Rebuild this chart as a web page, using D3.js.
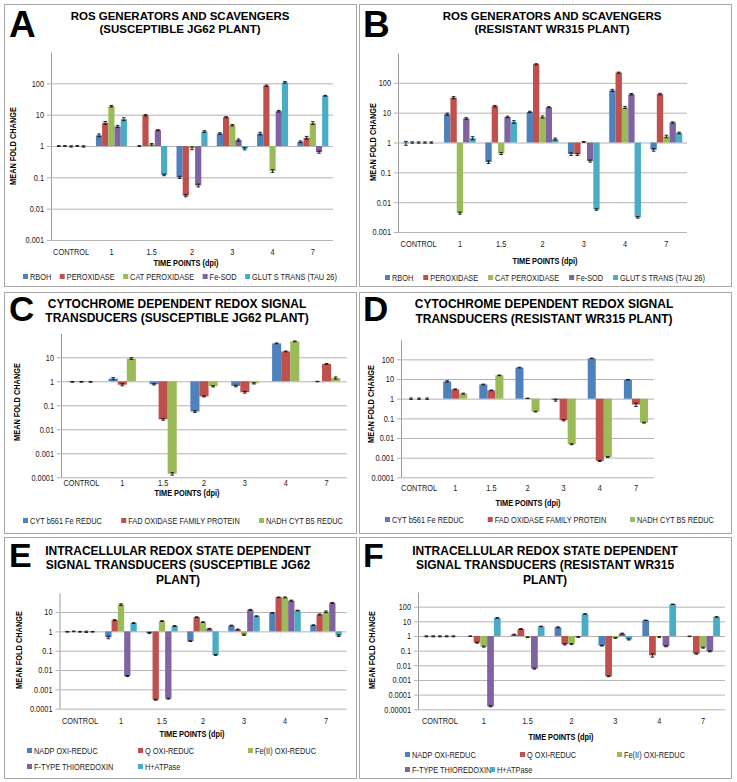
<!DOCTYPE html>
<html><head><meta charset="utf-8">
<script src="https://cdn.jsdelivr.net/npm/d3@7"></script>
<style>body{margin:0;background:#fff} svg{display:block}</style>
</head><body>
<svg id="c" width="737" height="782"></svg>
<script>
// ---------------- DATA ----------------
const categories = ["CONTROL", "1", "1.5", "2", "3", "4", "7"];

const rosSeries = ["RBOH", "PEROXIDASE", "CAT PEROXIDASE", "Fe-SOD", "GLUT S TRANS (TAU 26)"];
const cytSeries = ["CYT b561 Fe REDUC", "FAD OXIDASE FAMILY PROTEIN", "NADH CYT B5 REDUC"];
const redoxSeries = ["NADP OXI-REDUC", "Q OXI-REDUC", "Fe(II) OXI-REDUC", "F-TYPE THIOREDOXIN", "H+ATPase"];

// Panel A (susceptible JG62) ROS
const A_RBOH  = [1.0, 2.2, 1.0, 0.10, 2.5, 2.5, 1.37];
const A_PEROX = [1.0, 5.5, 9.6, 0.026, 8.3, 84, 1.84];
const A_CAT   = [0.97, 18.6, 1.13, 0.85, 4.6, 0.16, 5.4];
const A_SOD   = [1.0, 4.2, 3.2, 0.055, 1.55, 12.9, 0.64];
const A_GLUT  = [0.97, 7.2, 0.12, 2.9, 0.82, 107, 40];
// Panel B (resistant WR315) ROS
const B_RBOH  = [0.95, 8.9, 0.22, 10.6, 0.41, 56, 0.57];
const B_PEROX = [1.0, 32, 16.5, 420, 0.40, 220, 42];
const B_CAT   = [1.0, 0.0043, 0.43, 7.2, 1.05, 15, 1.6];
const B_SOD   = [1.0, 6.4, 7.2, 15.2, 0.24, 41.5, 4.7];
const B_GLUT  = [1.0, 1.4, 4.9, 1.3, 0.0057, 0.0031, 2.1];
// Panel C (susceptible) cytochrome
const C_CYT  = [0.95, 1.3, 0.75, 0.055, 0.64, 38, 0.98];
const C_FAD  = [0.95, 0.72, 0.026, 0.235, 0.35, 17.6, 5.3];
const C_NADH = [0.95, 8.9, 0.00014, 0.62, 0.82, 46, 1.38];
// Panel D (resistant) cytochrome
const D_CYT  = [1.0, 7.6, 5.3, 38, 0.85, 112, 9.2];
const D_FAD  = [1.0, 3.0, 2.65, 1.04, 0.08, 0.00068, 0.5];
const D_NADH = [1.0, 1.8, 15.4, 0.22, 0.0048, 0.00108, 0.06];
// Panel E (susceptible) intracellular redox
const E_NADP = [0.95, 0.49, 0.82, 0.31, 2.0, 9.1, 2.1];
const E_Q    = [1.0, 3.8, 0.00029, 5.4, 1.25, 58, 7.5];
const E_FE   = [0.95, 24.5, 3.4, 3.0, 0.67, 57, 10.3];
const E_FTYP = [0.95, 0.0049, 0.00033, 1.37, 13, 39, 29.7];
const E_HATP = [0.95, 2.7, 1.9, 0.06, 6.1, 12, 0.6];
// Panel F (resistant) intracellular redox
const F_NADP = [0.95, 0.97, 1.25, 3.9, 0.22, 11.7, 0.95];
const F_Q    = [0.95, 0.35, 3.0, 0.27, 0.0018, 0.048, 0.063];
const F_FE   = [0.95, 0.19, 0.82, 0.28, 0.73, 0.85, 0.16];
const F_FTYP = [0.95, 0.000016, 0.006, 0.85, 1.45, 0.2, 0.09];
const F_HATP = [0.95, 17, 4.5, 32, 0.59, 145, 20];

// relative errors (fraction of value)
const A_ERR = [[0.03,0.1,0.03,0.08,0.06,0.1,0.06],[0.03,0.1,0.05,0.08,0.04,0.05,0.1],[0.05,0.06,0.06,0.1,0.05,0.1,0.1],[0.03,0.08,0.04,0.1,0.08,0.06,0.08],[0.05,0.1,0.06,0.06,0.08,0.06,0.03]];
const B_ERR = [[0.15,0.08,0.1,0.05,0.1,0.08,0.1],[0.05,0.08,0.06,0.04,0.08,0.04,0.06],[0.05,0.08,0.08,0.08,0.03,0.08,0.1],[0.05,0.06,0.06,0.04,0.08,0.06,0.05],[0.05,0.12,0.1,0.08,0.06,0.06,0.06]];
const C_ERR = [[0.04,0.1,0.06,0.08,0.08,0.04,0.02],[0.04,0.1,0.08,0.05,0.08,0.04,0.04],[0.04,0.08,0.12,0.06,0.06,0.04,0.1]];
const D_ERR = [[0.08,0.08,0.04,0.04,0.12,0.03,0.03],[0.08,0.05,0.04,0.02,0.08,0.06,0.2],[0.08,0.06,0.04,0.04,0.05,0.04,0.05]];
const E_ERR = [[0.04,0.15,0.06,0.04,0.05,0.03,0.04],[0.04,0.06,0.05,0.05,0.05,0.03,0.06],[0.04,0.1,0.05,0.05,0.08,0.05,0.1],[0.08,0.06,0.05,0.05,0.05,0.06,0.05],[0.04,0.05,0.05,0.05,0.05,0.04,0.1]];
const F_ERR = [[0.08,0.04,0.06,0.08,0.06,0.04,0.04],[0.08,0.08,0.08,0.1,0.06,0.25,0.08],[0.08,0.08,0.05,0.08,0.05,0.05,0.08],[0.08,0.08,0.08,0.05,0.08,0.08,0.08],[0.08,0.05,0.04,0.04,0.1,0.03,0.04]];

const ticksABD = [0.001, 0.01, 0.1, 1, 10, 100];
const tickLabelsAB = ["0.001", "0.01", "0.1", "1", "10", "100"];
const ticksCDE = [0.0001, 0.001, 0.01, 0.1, 1, 10, 100];
const tickLabelsCDE = ["0.0001", "0.001", "0.01", "0.1", "1", "10", "100"];
const ticksF = [0.00001, 0.0001, 0.001, 0.01, 0.1, 1, 10, 100];
const tickLabelsF = ["0.00001", "0.0001", "0.001", "0.01", "0.1", "1", "10", "100"];

const colors = ["#4F81BD", "#C0504D", "#9BBB59", "#8064A2", "#4BACC6"];

// ---------------- PANELS ----------------
const panels = [
  { letter: "A", title: ["ROS GENERATORS AND SCAVENGERS", "(SUSCEPTIBLE JG62 PLANT)"],
    series: rosSeries, values: [A_RBOH, A_PEROX, A_CAT, A_SOD, A_GLUT], errs: A_ERR,
    domain: [0.001, 1000], ticks: ticksABD, tickLabels: tickLabelsAB,
    L: { box: [4, 4, 352, 282], letter: [9, 37, 37], titleX: 180, titleY: [20, 33], titleSize: 11.5,
         x0: 51, x1: 333, yTop: 52, yBot: 240, yTitle: [13, 146], catY: 255, xTitle: [186, 266],
         legend: { type: "row", y: 280, x0: 23, x1: 337 } } },
  { letter: "B", title: ["ROS GENERATORS AND SCAVENGERS", "(RESISTANT WR315 PLANT)"],
    series: rosSeries, values: [B_RBOH, B_PEROX, B_CAT, B_SOD, B_GLUT], errs: B_ERR,
    domain: [0.001, 1000], ticks: ticksABD, tickLabels: tickLabelsAB,
    L: { box: [359, 4, 372, 282], letter: [363, 37, 37], titleX: 552, titleY: [20, 33], titleSize: 11.5,
         x0: 398, x1: 687, yTop: 53, yBot: 232, yTitle: [373, 142], catY: 247, xTitle: [545, 264],
         legend: { type: "row", y: 281, x0: 385, x1: 705 } } },
  { letter: "C", title: ["CYTOCHROME DEPENDENT REDOX SIGNAL", "TRANSDUCERS (SUSCEPTIBLE JG62 PLANT)"],
    series: cytSeries, values: [C_CYT, C_FAD, C_NADH], errs: C_ERR,
    domain: [0.0001, 100], ticks: ticksCDE.slice(0, 6), tickLabels: tickLabelsCDE.slice(0, 6),
    L: { box: [4, 292, 352, 241], letter: [9, 321, 35], titleX: 177, titleY: [308, 322], titleSize: 12,
         x0: 61, x1: 347, yTop: 333.3, yBot: 477.3, yTitle: [17, 402], catY: 486, xTitle: [187, 496],
         legend: { type: "row", y: 524, x0: 23, x1: 343 } } },
  { letter: "D", title: ["CYTOCHROME DEPENDENT REDOX SIGNAL", "TRANSDUCERS (RESISTANT WR315 PLANT)"],
    series: cytSeries, values: [D_CYT, D_FAD, D_NADH], errs: D_ERR,
    domain: [0.0001, 1000], ticks: ticksCDE, tickLabels: tickLabelsCDE,
    L: { box: [359, 292, 372, 241], letter: [363, 321, 35], titleX: 544, titleY: [308, 323], titleSize: 12,
         x0: 401, x1: 654, yTop: 339.7, yBot: 477.3, yTitle: [371, 404], catY: 491, xTitle: [528, 506],
         legend: { type: "row", y: 523, x0: 385, x1: 714 } } },
  { letter: "E", title: ["INTRACELLULAR REDOX STATE DEPENDENT", "SIGNAL TRANSDUCERS (SUSCEPTIBLE JG62", "PLANT)"],
    series: redoxSeries, values: [E_NADP, E_Q, E_FE, E_FTYP, E_HATP], errs: E_ERR,
    domain: [0.0001, 100], ticks: ticksCDE.slice(0, 6), tickLabels: tickLabelsCDE.slice(0, 6),
    L: { box: [4, 537, 352, 241], letter: [9, 567, 34], titleX: 178, titleY: [554.5, 569, 583.5], titleSize: 12,
         x0: 59.5, x1: 346.5, yTop: 592.7, yBot: 708.7, yTitle: [19, 650], catY: 724, xTitle: [192, 737],
         legend: { type: "grid", rows: [754, 770], pos: [[27, 0], [138, 0], [248, 0], [27, 1], [138, 1]] } } },
  { letter: "F", title: ["INTRACELLULAR REDOX STATE DEPENDENT", "SIGNAL TRANSDUCERS (RESISTANT WR315", "PLANT)"],
    series: redoxSeries, values: [F_NADP, F_Q, F_FE, F_FTYP, F_HATP], errs: F_ERR,
    domain: [0.00001, 1000], ticks: ticksF, tickLabels: tickLabelsF,
    L: { box: [359, 537, 372, 241], letter: [363, 567, 34], titleX: 545, titleY: [554.5, 569, 583.5], titleSize: 12,
         x0: 418, x1: 725, yTop: 592, yBot: 709.3, yTitle: [372, 650], catY: 724, xTitle: [561, 740],
         legend: { type: "grid", rows: [758, 773], pos: [[405, 0], [520, 0], [617, 0], [405, 1], [490, 1]] } } }
];

// ---------------- DRAW ----------------
const FONT = "'Liberation Sans', Arial, Helvetica, sans-serif";
const SQ = 0.82;          // horizontal squeeze of the small chart text
const svg = d3.select("#c").style("font-family", FONT);
svg.append("rect").attr("width", 737).attr("height", 782).attr("fill", "#fff");

function squeeze(sel) {
  sel.each(function () {
    const t = d3.select(this);
    const x = +t.attr("x") || 0, y = +t.attr("y") || 0;
    t.attr("transform", `translate(${x},${y}) scale(${SQ},1) translate(${-x},${-y})`);
  });
}

panels.forEach(p => {
  const L = p.L;
  const g = svg.append("g");
  g.append("rect").attr("x", L.box[0] + 0.5).attr("y", L.box[1] + 0.5)
    .attr("width", L.box[2]).attr("height", L.box[3])
    .attr("fill", "#fff").attr("stroke", "#a6a6a6").attr("stroke-width", 1);

  g.append("text").attr("x", L.letter[0]).attr("y", L.letter[1])
    .attr("font-size", L.letter[2]).attr("font-weight", "bold").attr("fill", "#000").text(p.letter);

  p.title.forEach((t, i) => {
    g.append("text").attr("x", L.titleX).attr("y", L.titleY[i]).attr("text-anchor", "middle")
      .attr("font-size", L.titleSize).attr("font-weight", "bold").attr("fill", "#000").text(t);
  });

  const y = d3.scaleLog().domain(p.domain).range([L.yBot, L.yTop]);
  const x = d3.scaleBand().domain(categories).range([L.x0, L.x1]);
  const n = p.series.length;
  const inner = d3.scaleBand().domain(d3.range(n)).range([0, x.bandwidth()]).paddingInner(0).paddingOuter(0.75);

  // y axis with gridlines
  const ax = d3.axisLeft(y).tickValues(p.ticks).tickFormat((d, i) => p.tickLabels[i])
    .tickSize(-(L.x1 - L.x0)).tickSizeOuter(0).tickPadding(7);
  const ag = g.append("g").attr("transform", `translate(${L.x0},0)`).call(ax);
  ag.select(".domain").attr("stroke", "#9a9a9a");
  ag.selectAll(".tick line").attr("stroke", "#b4b4b4").attr("x1", -4);
  ag.selectAll(".tick text").attr("font-size", 9).attr("font-family", FONT).attr("fill", "#222").call(squeeze);

  // bars
  p.values.forEach((vals, si) => {
    const sg = g.append("g");
    sg.selectAll("rect").data(vals).join("rect")
      .attr("x", (d, j) => x(categories[j]) + inner(si))
      .attr("width", inner.bandwidth())
      .attr("y", d => Math.min(y(d), y(1)))
      .attr("height", d => Math.abs(y(d) - y(1)))
      .attr("fill", colors[si]);
    // error bars
    sg.selectAll("path").data(vals).join("path")
      .attr("d", (d, j) => {
        const e = p.errs[si][j];
        const cx = x(categories[j]) + inner(si) + inner.bandwidth() / 2;
        const ylo = y(d * (1 - e)), yhi = y(d * (1 + e));
        const w = 1.8;
        return `M${cx - w},${ylo}H${cx + w}M${cx},${ylo}V${yhi}M${cx - w},${yhi}H${cx + w}`;
      })
      .attr("stroke", "#111").attr("stroke-width", 0.9).attr("fill", "none");
  });

  // category axis labels
  const bx = d3.axisBottom(x).tickSize(0).tickPadding(0);
  const bg = g.append("g").attr("transform", `translate(0,${L.catY})`).call(bx);
  bg.select(".domain").remove();
  bg.selectAll(".tick text").attr("dy", 0).attr("y", 0).attr("font-size", 9).attr("font-family", FONT)
    .attr("fill", "#222").call(squeeze);

  // axis titles
  g.append("text").attr("x", L.xTitle[0]).attr("y", L.xTitle[1]).attr("text-anchor", "middle")
    .attr("font-size", 9).attr("font-weight", "bold").attr("fill", "#000").text("TIME POINTS (dpi)").call(squeeze);
  g.append("text").attr("text-anchor", "middle")
    .attr("transform", `translate(${L.yTitle[0]},${L.yTitle[1]}) rotate(-90) scale(${SQ},1)`)
    .attr("dy", "0.35em").attr("font-size", 9).attr("font-weight", "bold").attr("fill", "#000").text("MEAN FOLD CHANGE");

  // legend
  const lg = g.append("g");
  const items = p.series.map((s, i) => {
    const it = lg.append("g");
    it.append("rect").attr("width", 5).attr("height", 5).attr("fill", colors[i]);
    const t = it.append("text").attr("x", 7).attr("y", 0).attr("font-size", 9).attr("fill", "#222").text(s);
    const w = t.node().getComputedTextLength() * SQ;
    t.call(squeeze);
    return { it, w: 7 + w };
  });
  const LG = L.legend;
  if (LG.type === "row") {
    const total = d3.sum(items, d => d.w);
    const gap = (LG.x1 - LG.x0 - total) / (items.length - 1);
    let cx = LG.x0;
    items.forEach(d => {
      d.it.attr("transform", `translate(${cx},${LG.y})`);
      d.it.select("rect").attr("y", -6);
      cx += d.w + gap;
    });
  } else {
    items.forEach((d, i) => {
      const [px, r] = LG.pos[i];
      d.it.attr("transform", `translate(${px},${LG.rows[r]})`);
      d.it.select("rect").attr("y", -6);
    });
  }
});
</script>
</body></html>
